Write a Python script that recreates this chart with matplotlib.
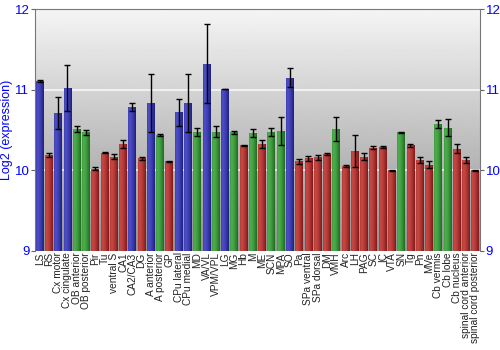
import matplotlib
matplotlib.use("Agg")
import matplotlib.pyplot as plt
import numpy as np

plt.rcParams["font.family"] = ["Liberation Sans", "DejaVu Sans"]

regions = ["LS", "RS", "Cx motor", "Cx cingulate", "OB anterior", "OB posterior",
           "Pir", "Tu", "ventral S", "CA1", "CA2/CA3", "DG", "A anterior",
           "A posterior", "GP", "CPu lateral", "CPu medial", "MD", "VA/VL",
           "VPM/VPL", "LG", "MG", "Hb", "M", "ME", "SCN", "MPA", "SO", "Pa",
           "SPa ventral", "SPa dorsal", "DM", "VMH", "Arc", "LH", "PAG", "SC",
           "IC", "VTA", "SN", "Tg", "Pn", "MVe", "Cb vermis", "Cb lobe",
           "Cb nucleus", "spinal cord anterior", "spinal cord posterior"]
values = [11.11, 10.19, 10.71, 11.02, 10.51, 10.47, 10.02, 10.22, 10.17, 10.33,
          10.78, 10.15, 10.83, 10.44, 10.11, 10.72, 10.84, 10.48, 11.32, 10.48,
          11.01, 10.47, 10.31, 10.46, 10.33, 10.47, 10.49, 11.15, 10.11, 10.15,
          10.16, 10.20, 10.51, 10.05, 10.24, 10.17, 10.28, 10.29, 10.00, 10.47,
          10.31, 10.13, 10.07, 10.57, 10.53, 10.27, 10.13, 10.00]
errors = [0.01, 0.02, 0.20, 0.29, 0.04, 0.03, 0.02, 0.01, 0.03, 0.05,
          0.05, 0.02, 0.36, 0.01, 0.005, 0.17, 0.36, 0.05, 0.49, 0.07,
          0.005, 0.02, 0.005, 0.05, 0.05, 0.05, 0.17, 0.12, 0.03, 0.03,
          0.03, 0.01, 0.15, 0.01, 0.20, 0.04, 0.02, 0.01, 0.005, 0.01,
          0.02, 0.04, 0.04, 0.05, 0.11, 0.06, 0.04, 0.01]
groups = ["b", "r", "b", "b", "g", "g", "r", "r", "r", "r", "b", "r", "b", "g",
          "r", "b", "b", "g", "b", "g", "b", "g", "r", "g", "r", "g", "g", "b",
          "r", "r", "r", "r", "g", "r", "r", "r", "r", "r", "r", "g", "r", "r",
          "r", "g", "g", "r", "r", "r"]

palette = {"b": ((0.30, 0.30, 0.78), (0.12, 0.12, 0.50)),
           "r": ((0.78, 0.28, 0.26), (0.50, 0.10, 0.10)),
           "g": ((0.30, 0.68, 0.30), (0.12, 0.42, 0.12))}

fig = plt.figure(figsize=(5, 3.5), dpi=100)
ax = fig.add_axes([0.07, 0.283, 0.89, 0.691])
ymin, ymax = 9, 12
x = np.arange(len(regions))

# grey gradient background
bg = np.linspace(0.57, 0.96, 256).reshape(-1, 1)
ax.imshow(bg, cmap="gray", vmin=0, vmax=1, aspect="auto", origin="lower",
          extent=[-0.5, len(regions) - 0.5, ymin, ymax], zorder=0)
for yv in [10, 11]:
    ax.axhline(yv, color="white", lw=1.2, alpha=0.8, zorder=1)

bars = ax.bar(x, np.array(values) - ymin, bottom=ymin, width=0.85, zorder=2,
              color=[palette[g][0] for g in groups], linewidth=0)
# glossy horizontal shading on each bar
shade = np.concatenate([np.linspace(0.3, 0, 6), np.linspace(0, 1, 26) ** 1.5])
for b, g in zip(bars, groups):
    light, dark = palette[g]
    img = np.array([[np.array(light) * (1 - t) + np.array(dark) * t for t in shade]])
    x0, w = b.get_x(), b.get_width()
    im = ax.imshow(img, aspect="auto", extent=[x0, x0 + w, ymin, b.get_height() + ymin],
                   zorder=3, interpolation="bilinear")
    im.set_clip_path(b)

ax.errorbar(x, values, yerr=errors, fmt="none", ecolor="black", elinewidth=1,
            capsize=2, capthick=1, zorder=4)

ax.set_xlim(-0.5, len(regions) - 0.5)
ax.set_ylim(ymin, ymax)
ax.set_yticks([9, 10, 11, 12])
ax.set_xticks(x)
ax.set_xticklabels(regions, rotation=90, fontsize=7.3, color="#222222")
ax.tick_params(axis="x", length=0, pad=1)
ax.tick_params(axis="y", labelcolor="blue", labelsize=9.5, color="#666666", length=3,
               left=True, right=True, labelleft=True, labelright=True, pad=1)
ax.set_ylabel("Log2 (expression)", color="blue", fontsize=9, labelpad=1)
for s in ax.spines.values():
    s.set_color("#777777")
ax.spines["bottom"].set_visible(False)

fig.savefig("out.png", dpi=100)
